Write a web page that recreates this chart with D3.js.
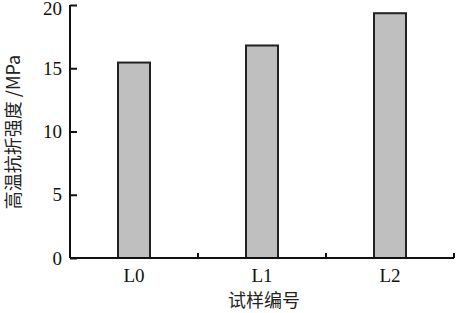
<!DOCTYPE html>
<html><head><meta charset="utf-8">
<script src="https://cdn.jsdelivr.net/npm/d3@7"></script>
<style>body{margin:0;background:#fff}</style>
</head><body>
<svg id="c" width="456" height="313"></svg>
<script>
const categories = ["L0", "L1", "L2"];
const values = [15.45, 16.8, 19.35];
const yTicks = [0, 5, 10, 15, 20];

const svg = d3.select("#c");
const m = {l: 70, r: 454, t: 5, b: 258};
const x = d3.scaleBand().domain(categories).range([m.l, m.r]).paddingInner(0).paddingOuter(0);
const y = d3.scaleLinear().domain([0, 20]).range([m.b, m.t]);
const barW = 32;
const serif = "'Liberation Serif','Times New Roman',serif";

svg.selectAll("rect.bar").data(values).join("rect")
  .attr("class", "bar")
  .attr("x", (d, i) => x(categories[i]) + x.bandwidth() / 2 - barW / 2)
  .attr("width", barW)
  .attr("y", d => y(d))
  .attr("height", d => y(0) - y(d))
  .attr("fill", "#bfbfbf").attr("stroke", "#222").attr("stroke-width", 2);

const yAxis = d3.axisLeft(y).tickValues(yTicks).tickSize(-7).tickPadding(8);
const gy = svg.append("g").attr("transform", `translate(${m.l},0)`).call(yAxis);
gy.select(".domain").attr("d", `M0,${m.t}V${m.b}`);

const xAxis = d3.axisBottom(x).tickSize(0).tickPadding(11);
const gx = svg.append("g").attr("transform", `translate(0,${m.b})`).call(xAxis);
gx.select(".domain").attr("d", `M${m.l},0H${m.r}`);
const bounds = categories.map(c => x(c) + x.bandwidth());
gx.selectAll("line.bt").data(bounds).join("line").attr("class", "bt")
  .attr("x1", d => d).attr("x2", d => d).attr("y1", 0).attr("y2", -5)
  .attr("stroke", "#111").attr("stroke-width", 2);

[gx, gy].forEach(g => {
  g.selectAll(".domain").attr("stroke", "#111").attr("stroke-width", 2);
  g.selectAll(".tick line").attr("stroke", "#111").attr("stroke-width", 2);
  g.selectAll("text").attr("font-family", serif).attr("font-size", 19).attr("fill", "#111");
});
gy.selectAll(".tick").filter(d => d === 20).select("text").attr("dy", "0.5em");

svg.append("text").attr("x", 264).attr("y", 307).attr("text-anchor", "middle")
  .attr("font-family", "'Noto Sans CJK SC',sans-serif").attr("font-size", 18).attr("fill", "#222")
  .text("试样编号");

svg.append("text").attr("transform", "translate(20,132) rotate(-90)").attr("text-anchor", "middle")
  .attr("font-family", "'Noto Sans CJK SC',sans-serif").attr("font-size", 18).attr("fill", "#222")
  .text("高温抗折强度 /MPa");
</script>
</body></html>
